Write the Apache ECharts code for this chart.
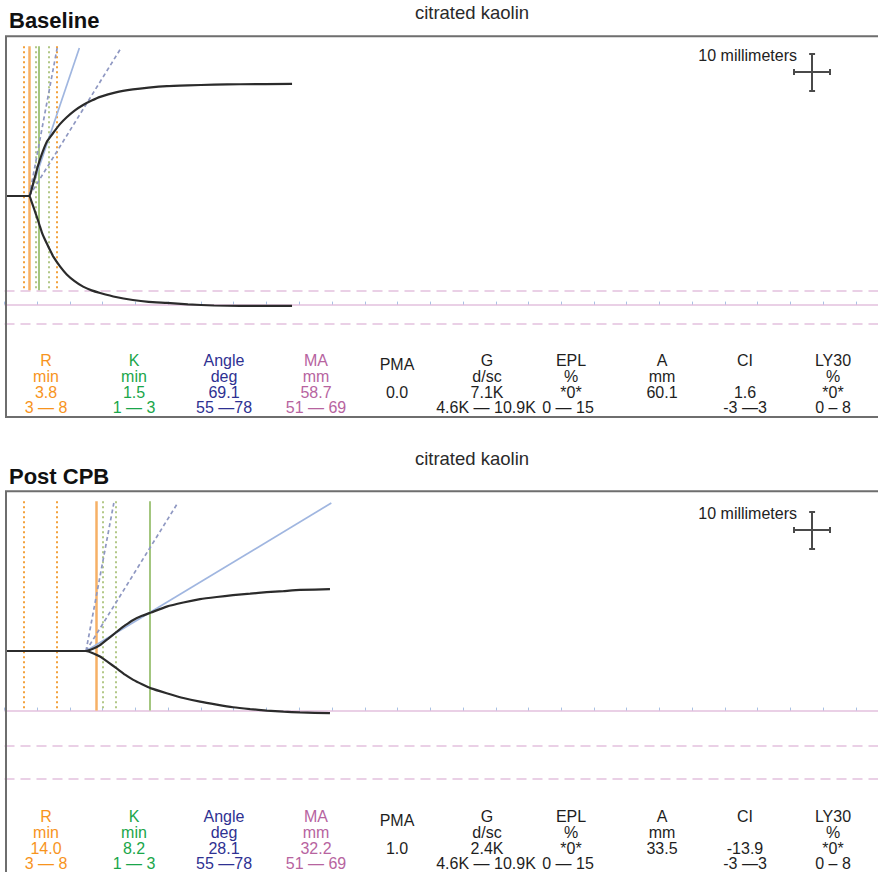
<!DOCTYPE html>
<html><head><meta charset="utf-8">
<script src="https://cdn.jsdelivr.net/npm/echarts@6/dist/echarts.min.js"></script>
<style>html,body{margin:0;padding:0;background:#fff}#c{width:878px;height:872px}</style>
</head><body><div id="c"></div>
<script>
// ---------------- DATA ----------------
const paramNames = ['R','K','Angle','MA','PMA','G','EPL','A','CI','LY30'];
const paramUnits = ['min','min','deg','mm','','d/sc','%','mm','','%'];
const baselineValues = ['3.8','1.5','69.1','58.7','0.0','7.1K','*0*','60.1','1.6','*0*'];
const postCpbValues = ['14.0','8.2','28.1','32.2','1.0','2.4K','*0*','33.5','-13.9','*0*'];
const normalRangeLabels = ['3 — 8','1 — 3','55 —78','51 — 69','','4.6K — 10.9K','0 — 15','','-3 —3','0 – 8'];

const rRange = [3, 8];        // min
const kRange = [1, 3];        // min after R
const angleRange = [55, 78];  // deg
const maRange = [51, 69];     // mm

const baselineR = 3.8, baselineK = 1.5, baselineAngle = 69.1, baselineMA = 58.7, baselineSplit = 3.79;
const postR = 14.0, postK = 8.2, postAngle = 28.1, postMA = 32.2, postSplit = 12.44;

// tracing (time in min, amplitude in mm from the centre line)
const baselineTime  = [0.23, 3.79, 4.1, 4.4, 4.7, 5.0, 5.35, 5.7, 6.1, 6.5, 7.0, 7.45, 8.5, 9.5, 10.7, 12.0, 13.3, 14.6, 17, 19.6, 22, 24.8, 28, 32, 36, 43.9];
const baselineUpper = [0, 0, 1.5, 3.5, 5.5, 7.5, 9.5, 11.3, 13.2, 14.8, 16.0, 17.1, 19.5, 21.3, 23.1, 24.6, 25.8, 26.8, 28.0, 28.8, 29.3, 29.7, 29.9, 30.1, 30.2, 30.3];
const baselineLower = [0, 0, -1.4, -2.9, -4.4, -6.0, -7.9, -9.8, -11.5, -13.0, -14.8, -16.4, -19.1, -21.2, -23.0, -24.5, -25.5, -26.2, -27.3, -28.1, -28.6, -28.9, -29.3, -29.6, -29.7, -29.7];

const postTime  = [0.23, 12.44, 13.5, 14.58, 15.8, 17.13, 18.4, 19.66, 21.0, 22.37, 24.76, 27.3, 29.85, 32.4, 34.89, 37.5, 40.03, 42.6, 45.11, 49.69];
const postUpper = [0, 0, 0.6, 1.6, 3.3, 5.2, 6.9, 8.4, 9.5, 10.4, 12.0, 13.1, 14.0, 14.6, 15.1, 15.5, 15.9, 16.2, 16.5, 16.7];
const postLower = [0, 0, -0.6, -1.5, -3.0, -4.7, -6.4, -7.8, -9.0, -10.1, -11.4, -12.7, -13.7, -14.5, -15.2, -15.7, -16.1, -16.4, -16.6, -16.8];

const chartSpeed = 2;      // mm per min used for angle lines
const angleLineTop = 40;   // mm
const markerTop = 40.5;    // mm
const scaleBarMm = 10;

// ---------------- LAYOUT ----------------
const pxPerMin = 6.55, pxPerMm = 3.7;
const gridLeft = 4.5;
const xMin = 0, xMax = (878 - gridLeft) / pxPerMin, yMin = -43.2, yMax = 43.2;
const panelCenters = [196, 651];
const FONT = "'Liberation Sans', Arial, Helvetica, sans-serif";
const colX = [46,134,224,316,397,487,571,662,745,833];
const rangeX = [46,134,224,316,397,486,568,662,745,833];
const labelDy = [0,0,0,0,4,0,0,0,0,0];
const colColors = ['#f7941d','#1aa64a','#2e3192','#b7649f','#1e1e1e','#1e1e1e','#1e1e1e','#1e1e1e','#1e1e1e','#1e1e1e'];

const panels = [
  {time: baselineTime, up: baselineUpper, lo: baselineLower, R: baselineR, K: baselineK, angle: baselineAngle, MA: baselineMA, split: baselineSplit, values: baselineValues, crossMm: 33.5, textTop: 360, title: 'Baseline', titleY: 20, subY: 12, scaleTextY: 55},
  {time: postTime, up: postUpper, lo: postLower, R: postR, K: postK, angle: postAngle, MA: postMA, split: postSplit, values: postCpbValues, crossMm: 32.7, textTop: 816, title: 'Post CPB', titleY: 476, subY: 458, scaleTextY: 513}
];

const grids = [], xAxes = [], yAxes = [], series = [], graphics = [];
const hidden = {show: false};
const orange = '#f3a13b', orangeSolid = '#f6b066', greenSolid = '#a3c67f', greenDot = '#b2c887';
const pink = '#d5a2cd', angleBlue = '#a0b6e0', angleDash = '#8f98c2', trace = '#2b2b2b', crossCol = '#4a4a4a';

panels.forEach((p, g) => {
  const top = panelCenters[g] - yMax * pxPerMm;
  grids.push({left: gridLeft, top: top, width: (xMax - xMin) * pxPerMin, height: (yMax - yMin) * pxPerMm, show: false});
  xAxes.push({type: 'value', gridIndex: g, min: xMin, max: xMax, show: false});
  xAxes.push({type: 'value', gridIndex: g, min: xMin, max: xMax, interval: 5, position: 'bottom',
    offset: -((-p.MA / 2) - yMin) * pxPerMm,
    axisLine: {show: false, onZero: false}, axisLabel: hidden, splitLine: hidden,
    axisTick: {show: true, inside: true, length: 3, lineStyle: {color: '#a9c1e3', width: 1}}});
  yAxes.push({type: 'value', gridIndex: g, min: yMin, max: yMax, show: false});
  const xi = 2 * g, yi = g;
  const base = {xAxisIndex: xi, yAxisIndex: yi, silent: true, animation: false};

  // horizontal MA lines
  series.push(Object.assign({type: 'lines', coordinateSystem: 'cartesian2d', z: 1, data: [
    {coords: [[xMin, -p.MA / 2], [xMax, -p.MA / 2]], lineStyle: {color: pink, width: 2, type: 'solid'}},
    {coords: [[xMin, -maRange[0] / 2], [xMax, -maRange[0] / 2]], lineStyle: {color: pink, width: 2, type: [10, 6]}},
    {coords: [[xMin, -maRange[1] / 2], [xMax, -maRange[1] / 2]], lineStyle: {color: pink, width: 2, type: [10, 6]}}
  ]}, base));

  // vertical markers
  const vBot = Math.max(-p.MA / 2, -maRange[0] / 2);
  const vl = (t, color, type, w) => ({coords: [[t, markerTop], [t, vBot]], lineStyle: {color: color, width: w, type: type, opacity: 1}});
  series.push(Object.assign({type: 'lines', coordinateSystem: 'cartesian2d', z: 2, data: [
    vl(rRange[0], orange, [2, 3], 2),
    vl(rRange[1], orange, [2, 3], 2),
    vl(p.R + kRange[0], greenDot, [2, 3], 2),
    vl(p.R + kRange[1], greenDot, [2, 3], 2),
    vl(p.R, orangeSolid, 'solid', 2.5),
    vl(p.R + p.K, greenSolid, 'solid', 2)
  ]}, base));

  // angle lines
  const al = (ang) => [[p.split, 0], [p.split + angleLineTop / (chartSpeed * Math.tan(ang * Math.PI / 180)), angleLineTop]];
  series.push(Object.assign({type: 'lines', coordinateSystem: 'cartesian2d', z: 3, data: [
    {coords: al(angleRange[0]), lineStyle: {color: angleDash, width: 1.7, type: [4, 3], opacity: 1}},
    {coords: al(angleRange[1]), lineStyle: {color: angleDash, width: 1.7, type: [4, 3], opacity: 1}},
    {coords: al(p.angle), lineStyle: {color: angleBlue, width: 1.7, type: 'solid', opacity: 1}}
  ]}, base));

  // traces
  ['up', 'lo'].forEach(k => {
    series.push(Object.assign({type: 'line', z: 5, showSymbol: false, smooth: 0.15,
      lineStyle: {color: trace, width: 2.2},
      data: p.time.map((t, i) => [t, p[k][i]])}, base));
  });

  // 10 mm scale cross
  const cx = 123.3, cy = p.crossMm, hx = 2.75, hy = scaleBarMm / 2, capX = 0.45, capY = 0.8;
  const cl = (a, b) => ({coords: [a, b]});
  series.push(Object.assign({type: 'lines', coordinateSystem: 'cartesian2d', z: 5,
    lineStyle: {color: crossCol, width: 2, type: 'solid', opacity: 1}, data: [
    cl([cx, cy - hy], [cx, cy + hy]),
    cl([cx - hx, cy], [cx + hx, cy]),
    cl([cx - capX, cy + hy], [cx + capX, cy + hy]),
    cl([cx - capX, cy - hy], [cx + capX, cy - hy]),
    cl([cx - hx, cy - capY], [cx - hx, cy + capY]),
    cl([cx + hx, cy - capY], [cx + hx, cy + capY])
  ]}, base));

  // frame
  graphics.push({type: 'rect', z: 10, shape: {x: 6, y: top, width: 900, height: g === 0 ? 417 - top : 600},
    style: {fill: 'none', stroke: '#6e6e6e', lineWidth: 2}});

  const txt = (x, y, text, color, font, align) => ({type: 'text', z: 11, x: x, y: y,
    style: {text: text, fill: color, font: font, textAlign: align || 'center', align: align || 'center', textVerticalAlign: 'middle', verticalAlign: 'middle'}});
  graphics.push(txt(9, p.titleY, p.title, '#111', 'bold 22px ' + FONT, 'left'));
  graphics.push(txt(472, p.subY, 'citrated kaolin', '#2a2a2a', '18.5px ' + FONT));
  graphics.push(txt(797, p.scaleTextY, '10 millimeters', '#222', '16px ' + FONT, 'right'));

  const f16 = '16px ' + FONT;
  paramNames.forEach((n, i) => {
    const y0 = p.textTop;
    graphics.push(txt(colX[i], y0 + labelDy[i], n, colColors[i], f16));
    if (paramUnits[i]) graphics.push(txt(colX[i], y0 + 16, paramUnits[i], colColors[i], f16));
    graphics.push(txt(colX[i], y0 + 32, p.values[i], colColors[i], f16));
    if (normalRangeLabels[i]) graphics.push(txt(rangeX[i], y0 + 47.5, normalRangeLabels[i], colColors[i], f16));
  });
});

const chart = echarts.init(document.getElementById('c'), null, {renderer: 'svg'});
chart.setOption({
  animation: false,
  backgroundColor: '#fff',
  grid: grids, xAxis: xAxes, yAxis: yAxes, series: series, graphic: graphics
});
</script></body></html>
